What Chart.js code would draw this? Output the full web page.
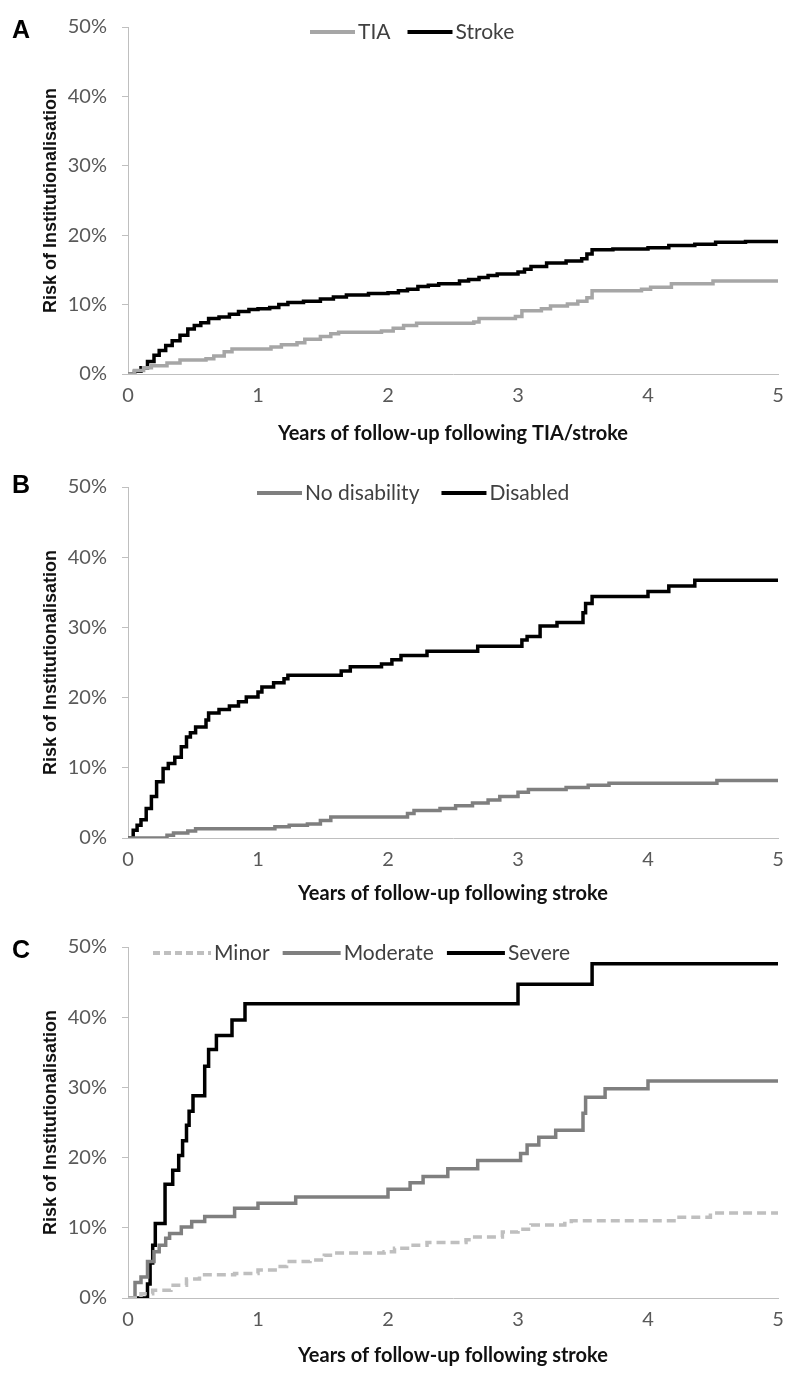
<!DOCTYPE html>
<html>
<head>
<meta charset="utf-8">
<script src="https://cdn.jsdelivr.net/npm/chart.js@4.4.1/dist/chart.umd.min.js"></script>
<style>
  body { margin: 0; background: #fff; }
  .panel { position: absolute; left: 0; }
</style>
</head>
<body>
<div class="panel" style="top:0"><canvas id="chartA" width="800" height="460"></canvas></div>
<div class="panel" style="top:460px"><canvas id="chartB" width="800" height="460"></canvas></div>
<div class="panel" style="top:920px"><canvas id="chartC" width="800" height="462"></canvas></div>
<script>
// [anos, risco %]
const tiaA = [[0,0],[0.05,0.5],[0.12,0.9],[0.18,1.2],[0.3,1.6],[0.4,2.0],[0.6,2.2],[0.66,2.6],[0.74,3.2],[0.8,3.6],[1.1,3.9],[1.18,4.2],[1.3,4.5],[1.36,5.0],[1.48,5.4],[1.56,5.8],[1.62,6.0],[1.95,6.2],[2.04,6.6],[2.12,7.0],[2.22,7.3],[2.66,7.5],[2.7,8.0],[2.98,8.3],[3.03,9.1],[3.18,9.4],[3.25,9.8],[3.38,10.1],[3.46,10.5],[3.53,11.0],[3.57,12.0],[3.95,12.2],[4.02,12.5],[4.18,13.0],[4.5,13.4],[5,13.5]];
const strokeA = [[0,0],[0.05,0.4],[0.1,0.9],[0.15,1.8],[0.2,2.7],[0.24,3.4],[0.29,4.1],[0.34,4.8],[0.4,5.6],[0.46,6.5],[0.51,7.0],[0.56,7.4],[0.62,8.0],[0.7,8.2],[0.78,8.6],[0.85,9.0],[0.93,9.3],[1.0,9.4],[1.09,9.6],[1.16,10.0],[1.23,10.3],[1.35,10.5],[1.48,10.8],[1.58,11.1],[1.68,11.4],[1.85,11.6],[2.0,11.7],[2.08,12.0],[2.15,12.2],[2.23,12.6],[2.31,12.8],[2.39,13.0],[2.55,13.4],[2.62,13.6],[2.7,13.9],[2.77,14.2],[2.84,14.4],[3.0,14.7],[3.05,15.1],[3.1,15.5],[3.22,16.0],[3.37,16.3],[3.49,16.6],[3.53,17.3],[3.57,17.9],[3.73,18.0],[4.0,18.2],[4.16,18.5],[4.36,18.7],[4.52,19.0],[4.75,19.1],[5,19.1]];

const noDisabilityB = [[0,0],[0.3,0.4],[0.35,0.7],[0.46,1.0],[0.52,1.3],[1.13,1.6],[1.24,1.8],[1.38,2.0],[1.48,2.5],[1.56,3.0],[2.15,3.5],[2.2,3.9],[2.4,4.2],[2.52,4.6],[2.65,5.0],[2.77,5.4],[2.86,5.9],[3.0,6.5],[3.08,6.9],[3.37,7.2],[3.54,7.5],[3.7,7.8],[4.53,8.2],[5,8.4]];
const disabledB = [[0,0],[0.04,1.1],[0.07,1.8],[0.1,2.6],[0.14,4.2],[0.18,5.9],[0.22,8.0],[0.27,9.9],[0.31,10.6],[0.36,11.5],[0.41,13.0],[0.45,14.4],[0.48,15.0],[0.52,15.8],[0.6,16.8],[0.62,17.8],[0.7,18.3],[0.78,18.8],[0.85,19.4],[0.91,20.1],[1.0,20.8],[1.03,21.5],[1.12,22.1],[1.2,22.7],[1.23,23.2],[1.64,23.8],[1.71,24.4],[1.95,24.8],[2.03,25.4],[2.1,26.0],[2.3,26.6],[2.69,27.3],[3.03,28.2],[3.07,28.7],[3.17,30.2],[3.3,30.7],[3.5,32.1],[3.52,33.4],[3.57,34.4],[4.0,35.1],[4.16,35.9],[4.36,36.7],[5,36.7]];

const minorC = [[0,0],[0.1,0.6],[0.19,1.1],[0.33,1.8],[0.45,2.7],[0.55,3.3],[0.82,3.5],[1.0,4.0],[1.15,4.5],[1.22,5.2],[1.4,5.4],[1.51,6.1],[1.58,6.4],[1.97,6.6],[2.05,7.1],[2.15,7.5],[2.3,7.9],[2.6,8.3],[2.65,8.7],[2.88,9.4],[3.0,9.8],[3.1,10.4],[3.36,10.6],[3.41,11.0],[4.2,11.5],[4.48,12.1],[5,12.3]];
const moderateC = [[0,0],[0.054,2.2],[0.1,3.0],[0.15,5.2],[0.2,6.6],[0.24,7.5],[0.29,8.5],[0.32,9.2],[0.41,10.1],[0.49,10.9],[0.59,11.6],[0.82,12.8],[1.0,13.5],[1.29,14.4],[2.0,15.5],[2.17,16.4],[2.27,17.3],[2.46,18.4],[2.69,19.6],[3.02,20.6],[3.07,21.8],[3.16,22.9],[3.29,23.9],[3.5,26.3],[3.52,28.6],[3.67,29.8],[4.0,30.9],[5,30.9]];
const severeC = [[0,0],[0.14,0],[0.15,2],[0.17,5],[0.19,7.5],[0.21,10.6],[0.285,16.2],[0.344,18.2],[0.39,20.3],[0.42,22.4],[0.45,24.6],[0.47,26.6],[0.5,28.8],[0.59,33.0],[0.62,35.4],[0.68,37.4],[0.8,39.6],[0.9,41.9],[3.0,44.7],[3.57,47.6],[5,47.6]];

const yearTicks = [0, 1, 2, 3, 4, 5];
const riskTicks = [0, 10, 20, 30, 40, 50];

Chart.defaults.font.family = 'Lato';
Chart.defaults.animation = false;

function pontos(arr) {
    return arr.map(p => ({ x: p[0], y: p[1] }));
}

function serie(label, arr, cor, tracejado) {
    return {
        label: label,
        data: pontos(arr),
        borderColor: cor,
        borderWidth: 3.5,
        borderDash: tracejado ? [9, 5] : [],
        stepped: true,
        pointRadius: 0,
        fill: false
    };
}

// legenda dentro da área do gráfico + letra do painel
const legendaInterna = {
    id: 'legendaInterna',
    afterDraw(chart, args, opts) {
        const ctx = chart.ctx;
        ctx.save();
        ctx.font = 'bold 25px "Liberation Sans"';
        ctx.fillStyle = '#000';
        ctx.textBaseline = 'alphabetic';
        ctx.fillText(opts.letter, 12, opts.letterY);

        ctx.font = '21px Lato';
        ctx.textBaseline = 'middle';
        let x = opts.x;
        chart.data.datasets.forEach(ds => {
            ctx.strokeStyle = ds.borderColor;
            ctx.lineWidth = 4;
            ctx.setLineDash(ds.borderDash.length ? [7, 4] : []);
            ctx.beginPath();
            ctx.moveTo(x, opts.y);
            ctx.lineTo(x + opts.sample, opts.y);
            ctx.stroke();
            ctx.setLineDash([]);
            x += opts.sample + 3;
            ctx.fillStyle = '#404040';
            ctx.fillText(ds.label, x, opts.y);
            x += ctx.measureText(ds.label).width + opts.gap;
        });
        ctx.restore();
    }
};

function criarGrafico(id, datasets, xTitulo, topo, alturaX, legenda) {
    return new Chart(document.getElementById(id), {
        type: 'line',
        data: { datasets: datasets },
        options: {
            responsive: false,
            layout: { padding: { top: topo, right: 22, bottom: 0, left: 0 } },
            plugins: {
                legend: { display: false },
                tooltip: { enabled: false },
                legendaInterna: legenda
            },
            scales: {
                x: {
                    type: 'linear',
                    min: 0,
                    max: 5,
                    afterBuildTicks: s => { s.ticks = yearTicks.map(v => ({ value: v })); },
                    afterFit: s => { s.height = alturaX; },
                    grid: { display: false, drawTicks: false },
                    border: { display: true, color: '#bfbfbf', width: 1 },
                    ticks: { color: '#595959', font: { size: 20 }, padding: 10 },
                    title: {
                        display: true,
                        text: xTitulo,
                        color: '#111',
                        font: { size: 20, weight: 'bold' },
                        padding: { top: 0, bottom: 14 }
                    }
                },
                y: {
                    min: 0,
                    max: 50,
                    afterBuildTicks: s => { s.ticks = riskTicks.map(v => ({ value: v })); },
                    afterFit: s => { s.width = 128; },
                    grid: { display: true, drawOnChartArea: false, drawTicks: true, tickLength: 6, color: '#bfbfbf' },
                    border: { display: true, color: '#bfbfbf', width: 1 },
                    ticks: {
                        color: '#595959',
                        font: { size: 20 },
                        padding: 15,
                        callback: v => v + '%'
                    },
                    title: {
                        display: true,
                        text: 'Risk of Institutionalisation',
                        color: '#111',
                        font: { family: '"Liberation Sans"', size: 18, weight: 'bold' },
                        padding: { top: 40, bottom: 0 }
                    }
                }
            }
        },
        plugins: [legendaInterna]
    });
}

criarGrafico('chartA', [
    serie('TIA', tiaA, '#a6a6a6'),
    serie('Stroke', strokeA, '#000000')
], 'Years of follow-up following TIA/stroke', 22, 86,
    { letter: 'A', letterY: 38, x: 310, y: 32, sample: 45, gap: 17 });

criarGrafico('chartB', [
    serie('No disability', noDisabilityB, '#7f7f7f'),
    serie('Disabled', disabledB, '#000000')
], 'Years of follow-up following stroke', 26, 82,
    { letter: 'B', letterY: 33, x: 257, y: 33, sample: 45, gap: 22 });

criarGrafico('chartC', [
    serie('Minor', minorC, '#bfbfbf', true),
    serie('Moderate', moderateC, '#7f7f7f'),
    serie('Severe', severeC, '#000000')
], 'Years of follow-up following stroke', 26, 84,
    { letter: 'C', letterY: 38, x: 153, y: 33, sample: 58, gap: 13 });
</script>
</body>
</html>
